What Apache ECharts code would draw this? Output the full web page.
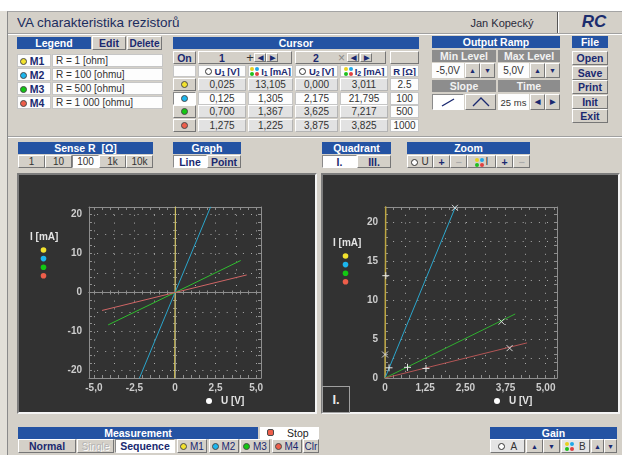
<!DOCTYPE html>
<html><head><meta charset="utf-8"><title>VA charakteristika rezistorů</title>
<script src="https://cdn.jsdelivr.net/npm/echarts@6.0.0/dist/echarts.min.js"></script>
<style>
html,body{margin:0;padding:0;width:622px;height:455px;overflow:hidden;background:#fff;font-family:"Liberation Sans",Arial,sans-serif;}
.a{position:absolute;box-sizing:border-box;display:flex;align-items:center;justify-content:center;font-size:10.5px;white-space:nowrap;overflow:hidden;color:#222;}
.hdr{background:#2453a3;color:#fff;font-weight:bold;}
.ghdr{background:#8d8d8d;color:#f2f2f2;font-weight:bold;}
.btn{background:#d4d0c8;border:1px solid;border-color:#fff #767676 #767676 #fff;color:#1a2970;font-weight:bold;}
.btnn{background:#d4d0c8;border:1px solid;border-color:#fff #767676 #767676 #fff;color:#333;font-size:10px;}
.btnw{background:#fff;border:1px solid;border-color:#8a8a8a #fff #fff #8a8a8a;color:#1a2970;font-weight:bold;}
.cell{background:#e2e2e2;border:1px solid;border-color:#fff #b4b4b4 #b4b4b4 #fff;color:#333;font-size:10px;}
.wcell{background:#fdfdfd;border:1px solid #c6c6c6;color:#333;font-size:10px;}
.panel{background:#323232;border:2px solid;border-color:#7c7c7c #f4f4f4 #f4f4f4 #7c7c7c;}
.tb{font-size:7px;padding:0;}
.dot{display:inline-block;width:7px;height:7px;border-radius:50%;border:1px solid #4a4a4a;box-sizing:border-box;vertical-align:middle;}
.oc{display:inline-block;width:7px;height:7px;border-radius:50%;border:1px solid #333;box-sizing:border-box;margin-right:3px;vertical-align:middle;background:#fff;}
.ic{position:relative;display:inline-block;width:9px;height:9px;vertical-align:middle;margin-right:2px;}
.ic i{position:absolute;width:4px;height:4px;border-radius:50%;}
sub{font-size:7px;vertical-align:-1px;line-height:0;}
</style></head>
<body>
<div id="chart" style="position:absolute;left:0;top:0;width:622px;height:455px;z-index:10;pointer-events:none"></div>
<script>
// ===== DATA =====
const measurementNames = ['M1', 'M2', 'M3', 'M4'];
const legendTexts = ['R = 1 [ohm]', 'R = 100 [ohmu]', 'R = 500 [ohmu]', 'R = 1 000 [ohmu]'];
// measured sweeps (U [V], I [mA])
const m1U = [-0.022, 0, 0.022];
const m1I = [-22, 0, 22];
const m2U = [-2.2, 0, 2.2];
const m2I = [-22, 0, 22];
const m3U = [-4.12, 0, 4.05];
const m3I = [-8.3, 0, 8.2];
const m4U = [-4.5, 0, 4.42];
const m4I = [-4.6, 0, 4.5];
// cursors
const cursor1U = [0.025, 0.125, 0.700, 1.275];
const cursor1I = [13.105, 1.305, 1.367, 1.225];
const cursor2U = [0.000, 2.175, 3.625, 3.875];
const cursor2I = [3.011, 21.795, 7.217, 3.825];
const resistR = [2.5, 100, 500, 1000];
// axis ticks
const leftXTicks = [-5, -2.5, 0, 2.5, 5];
const leftYTicks = [-20, -10, 0, 10, 20];
const rightXTicks = [0, 1.25, 2.5, 3.75, 5];
const rightYTicks = [0, 5, 10, 15, 20];
const leftXRange = [-5.3, 5.3];
const leftYRange = [-21.9, 21.9];
const rightXRange = [0, 5.35];
const rightYRange = [0, 21.9];
const senseR = ['1', '10', '100', '1k', '10k'];

// ===== STYLE =====
const NAVY = '#1a2970';
const markColors = ['#f2e22e', '#1cb6ee', '#12c812', '#ee5e4a'];
const leftLineColors = ['#ddcc58', '#2ba6cc', '#2fbf2f', '#d06666'];
const rightLineColors = ['#bda642', '#2ba6cc', '#2fb02f', '#b45656'];

function add(x, y, w, h, cls, html, css) {
  const d = document.createElement('div');
  d.className = 'a ' + (cls || '');
  d.style.cssText = 'left:' + x + 'px;top:' + y + 'px;width:' + w + 'px;height:' + h + 'px;' + (css || '');
  d.innerHTML = html || '';
  document.body.appendChild(d);
  return d;
}
const dot = c => '<span class="dot" style="background:' + c + '"></span>';
const IC = '<span class="ic"><i style="left:0;top:0;background:#e8d020"></i><i style="left:5px;top:0;background:#20a8e8"></i><i style="left:0;top:5px;background:#20c020"></i><i style="left:5px;top:5px;background:#e04040"></i></span>';
const fmt3 = v => v.toFixed(3).replace('.', ',');

// window background
add(0, 11, 7, 444, '', '', 'background:#e2dfd8;');
add(7, 11, 615, 444, '', '', 'background:#d4d0c8;border-left:1px solid #8a8a8a;border-top:1px solid #a4a4a4;');
add(8, 33, 614, 2, '', '', 'border-top:1px solid #a0a0a0;border-bottom:1px solid #fff;');
add(8, 136, 614, 2, '', '', 'border-top:1px solid #a0a0a0;border-bottom:1px solid #fff;');

// title bar
add(17, 12, 200, 20, '', '<span>VA charakteristika rezistorů</span>', 'justify-content:flex-start;font-size:13.5px;color:#1c2d5e;');
add(466, 14, 72, 18, '', 'Jan Kopecký', 'font-size:11px;color:#2a2a3a;');
add(557, 12, 2, 21, '', '', 'border-left:1px solid #555;border-right:1px solid #fff;');
add(578, 12, 32, 20, '', 'RC', 'font-size:17px;font-weight:bold;font-style:italic;color:#1c2d6e;');

// legend
add(17, 37, 74, 12, 'hdr', 'Legend');
add(92, 36, 34, 14, 'btn', 'Edit');
add(127, 36, 35, 14, 'btn', 'Delete', 'font-size:10px;');
measurementNames.forEach((n, i) => {
  const y = 54 + i * 14;
  add(17, y, 34, 13, 'wcell', '<span>' + dot(markColors[i]) + '&nbsp;<b style="color:' + NAVY + ';font-size:10.5px">' + n + '</b></span>', 'justify-content:flex-start;padding-left:2px;');
  add(52, y, 111, 13, 'wcell', legendTexts[i], 'justify-content:flex-start;padding-left:3px;');
});

// cursor
add(173, 37, 246, 12, 'hdr', 'Cursor');
add(173, 51, 23, 13, 'btn', 'On');
add(198, 51, 94, 13, 'btn', '');
add(198, 51, 48, 13, '', '1', 'font-weight:bold;color:' + NAVY + ';');
add(246, 51, 8, 13, '', '+', 'font-size:13px;color:#333;');
add(254, 53, 12, 9, 'btn tb', '◀');
add(266, 53, 12, 9, 'btn tb', '▶');
add(295, 51, 91, 13, 'btn', '');
add(295, 51, 42, 13, '', '2', 'font-weight:bold;color:' + NAVY + ';');
add(337, 51, 9, 13, '', '×', 'font-size:12px;color:#888;');
add(347, 53, 12, 9, 'btn tb', '◀');
add(360, 53, 12, 9, 'btn tb', '▶');
add(390, 51, 29, 13, 'btn', '');
const colX = [198, 248, 295, 340, 390];
const colW = [48, 45, 43, 48, 29];
const colHead = ['<span class="oc"></span>U<sub>1</sub>&nbsp;[V]', IC + 'I<sub>1</sub>&nbsp;[mA]', '<span class="oc"></span>U<sub>2</sub>&nbsp;[V]', IC + 'I<sub>2</sub>&nbsp;[mA]', 'R&nbsp;[Ω]'];
add(173, 65, 23, 12, 'wcell', '');
colHead.forEach((h, c) => add(colX[c], 65, colW[c], 12, 'wcell', '<span>' + h + '</span>', 'font-weight:bold;font-size:9.5px;letter-spacing:-0.2px;color:' + NAVY + ';'));
const rowsY = [78, 92, 105, 119];
measurementNames.forEach((n, i) => {
  const y = rowsY[i];
  add(173, y, 23, 13, i === 1 ? 'btnw' : 'btn', dot(markColors[i]));
  const vals = [fmt3(cursor1U[i]), fmt3(cursor1I[i]), fmt3(cursor2U[i]), fmt3(cursor2I[i]), String(resistR[i])];
  vals.forEach((v, c) => add(colX[c], y, colW[c], 13, (i === 1 || c === 4) ? 'wcell' : 'cell', v));
});

// output ramp
add(432, 36, 128, 12, 'hdr', 'Output Ramp');
add(432, 50, 64, 12, 'ghdr', 'Min Level');
add(498, 50, 62, 12, 'ghdr', 'Max Level');
add(432, 63, 32, 15, 'wcell', '-5,0V', 'border:none;');
add(465, 63, 15, 15, 'btn tb', '▲');
add(480, 63, 15, 15, 'btn tb', '▼');
add(498, 63, 31, 15, 'wcell', '5,0V', 'border:none;');
add(530, 63, 15, 15, 'btn tb', '▲');
add(545, 63, 15, 15, 'btn tb', '▼');
add(432, 80, 64, 12, 'ghdr', 'Slope');
add(498, 80, 62, 12, 'ghdr', 'Time');
add(432, 94, 32, 16, 'btnw', '<svg width="16" height="9"><line x1="2" y1="8" x2="14" y2="1" stroke="' + NAVY + '" stroke-width="1.4"/></svg>');
add(465, 94, 31, 16, 'btn', '<svg width="18" height="10"><polyline points="1,9 9,1 17,9" fill="none" stroke="' + NAVY + '" stroke-width="1.3"/></svg>');
add(498, 94, 31, 16, 'wcell', '25 ms', 'border:none;font-size:9.5px;');
add(530, 94, 15, 16, 'btn tb', '◀');
add(545, 94, 15, 16, 'btn tb', '▶');

// file
add(572, 36, 36, 12, 'hdr', 'File');
['Open', 'Save', 'Print', 'Init', 'Exit'].forEach((t, i) => add(572, 51 + i * 14.5, 36, 14, 'btn', t));

// second band
add(18, 142, 135, 12, 'hdr', 'Sense R&nbsp;&nbsp;[Ω]');
senseR.forEach((t, i) => add(18 + i * 27, 155, 27, 13, i === 2 ? 'btnw' : 'btnn', t, i === 2 ? 'font-weight:normal;color:#333;font-size:10px;' : ''));
add(173, 142, 68, 12, 'hdr', 'Graph');
add(173, 155, 34, 13, 'btnw', 'Line');
add(207, 155, 34, 13, 'btn', 'Point');
add(322, 142, 69, 12, 'hdr', 'Quadrant');
add(322, 155, 35, 13, 'btnw', 'I.');
add(357, 155, 34, 13, 'btn', 'III.');
add(407, 142, 123, 12, 'hdr', 'Zoom');
add(407, 155, 26, 13, 'btnn', '<span><span class="oc"></span>U</span>');
add(433, 155, 17, 13, 'btn', '+');
add(450, 155, 17, 13, 'btn', '−', 'color:#aaa;');
add(467, 155, 29, 13, 'btnn', '<span>' + IC + 'I</span>');
add(496, 155, 17, 13, 'btn', '+');
add(513, 155, 17, 13, 'btn', '−', 'color:#aaa;');

// chart panels
add(17, 173, 300, 241, 'panel', '');
add(321, 173, 299, 241, 'panel', '');
add(322, 386, 28, 27, '', 'I.', 'border:1px solid #a0a0a0;color:#e8e8e8;font-weight:bold;font-size:13px;background:#323232;z-index:11;');

// bottom band
add(18, 427, 240, 12, 'hdr', 'Measurement');
add(260, 427, 59, 12, '', '<span class="dot" style="background:#ee5e4a;border-radius:2px;position:absolute;left:7px;top:2px"></span><span style="position:absolute;left:27px">Stop</span>', 'background:#fff;');
add(18, 439, 58, 14, 'btn', 'Normal');
add(77, 439, 37, 14, 'btnn', 'Single', 'color:#b4b4b4;text-shadow:1px 1px 0 #fff;');
add(115, 439, 60, 14, 'btnw', 'Sequence');
measurementNames.forEach((n, i) => add(177 + i * 31.5, 439, 30, 14, 'btnn', '<span>' + dot(markColors[i]) + '&nbsp;' + n + '</span>', 'color:' + NAVY + ';'));
add(303, 439, 16, 14, 'btnn', 'Clr', 'color:' + NAVY + ';');
add(490, 427, 127, 12, 'hdr', 'Gain');
add(490, 439, 35, 14, 'btnn', '<span><span class="oc"></span>&nbsp;A</span>', 'background:#e4e4e4;');
add(526, 439, 17, 14, 'btn tb', '▲');
add(543, 439, 17, 14, 'btn tb', '▼');
add(561, 439, 29, 14, 'btnn', '<span>' + IC + '&nbsp;B</span>', 'background:#e4e4e4;');
add(591, 439, 13, 14, 'btn tb', '▲');
add(604, 439, 13, 14, 'btn tb', '▼');

// ===== CHARTS =====
const AXC = '#8e8e8e', LBC = '#cdcdcd', DOTC = '#aaaaaa';
const LBLFONT = { color: LBC, fontSize: 10, fontWeight: 'bold', fontFamily: 'Liberation Sans' };
function blankAxis(g, pos, range, step) {
  return {
    type: 'value', gridIndex: g, position: pos, min: range[0], max: range[1],
    minInterval: step, maxInterval: step,
    axisLine: { show: false, onZero: false }, axisTick: { show: false }, minorTick: { show: false },
    axisLabel: { show: false }, splitLine: { show: false }, minorSplitLine: { show: false }
  };
}
function matchTick(v, ticks) { return ticks.find(t => Math.abs(t - v) < 1e-6); }
function frameAxis(g, pos, range, ticks, fmt) {
  const a = blankAxis(g, pos, range, ticks[1] - ticks[0]);
  a.axisLine = { show: true, onZero: false, lineStyle: { color: AXC, width: 1 } };
  a.axisTick = { show: true, inside: true, length: 3, lineStyle: { color: AXC } };
  a.minorTick = { show: true, splitNumber: 5, length: 3, lineStyle: { color: AXC } };
  if (fmt) {
    a.axisLabel = Object.assign({
      show: true, margin: (pos === 'bottom' ? 5 : 7),
      showMinLabel: range[0] === ticks[0], showMaxLabel: false,
      formatter: v => { const t = matchTick(v, ticks); return t === undefined ? '' : fmt(t); }
    }, LBLFONT);
  }
  return a;
}
function dotAxis(g, pos, range, ticks, dash) {
  const a = blankAxis(g, pos, range, (ticks[1] - ticks[0]) / 2);
  a.splitLine = { show: true, lineStyle: { color: DOTC, width: 1, type: dash } };
  return a;
}
function zeroAxis(g, pos, range, step, other, inside) {
  const a = blankAxis(g, pos, range, step);
  a.axisLine = { show: true, onZero: true, onZeroAxisIndex: other, lineStyle: { color: AXC, width: 1 } };
  a.axisTick = { show: true, inside: inside, length: 2, lineStyle: { color: AXC } };
  return a;
}
const fmtL = v => v === 0 ? '0' : v.toFixed(1).replace('.', ',');
const fmtR = v => v === 0 ? '0' : v.toFixed(2).replace('.', ',');
const fmtY = v => String(v);
const xStepL = (leftXTicks[1] - leftXTicks[0]) / 5, yStepL = (leftYTicks[1] - leftYTicks[0]) / 5;

const xAxes = [
  frameAxis(0, 'bottom', leftXRange, leftXTicks, fmtL),   // 0
  frameAxis(0, 'top', leftXRange, leftXTicks, null),      // 1
  dotAxis(0, 'bottom', leftXRange, leftXTicks, [1, 6.8]), // 2
  zeroAxis(0, 'bottom', leftXRange, xStepL, 0, true),     // 3
  zeroAxis(0, 'bottom', leftXRange, xStepL, 0, false),    // 4
  frameAxis(1, 'bottom', rightXRange, rightXTicks, fmtR), // 5
  frameAxis(1, 'top', rightXRange, rightXTicks, null),    // 6
  dotAxis(1, 'bottom', rightXRange, rightXTicks, [1, 6.8])// 7
];
const yAxes = [
  frameAxis(0, 'left', leftYRange, leftYTicks, fmtY),     // 0
  frameAxis(0, 'right', leftYRange, leftYTicks, null),    // 1
  dotAxis(0, 'left', leftYRange, leftYTicks, [1, 7.1]),   // 2
  zeroAxis(0, 'left', leftYRange, yStepL, 0, true),       // 3
  zeroAxis(0, 'left', leftYRange, yStepL, 0, false),      // 4
  frameAxis(1, 'left', rightYRange, rightYTicks, fmtY),   // 5
  frameAxis(1, 'right', rightYRange, rightYTicks, null),  // 6
  dotAxis(1, 'left', rightYRange, rightYTicks, [1, 7.1])  // 7
];

const sweepsU = [m1U, m2U, m3U, m4U];
const sweepsI = [m1I, m2I, m3I, m4I];
const pairs = (us, is) => us.map((u, k) => [u, is[k]]);
const series = [];
measurementNames.forEach((n, i) => {
  series.push({
    type: 'line', name: n, xAxisIndex: 0, yAxisIndex: 0, data: pairs(sweepsU[i], sweepsI[i]),
    showSymbol: false, symbol: 'none', clip: true, silent: true, z: 3,
    lineStyle: { color: leftLineColors[i], width: 1 }
  });
});
measurementNames.forEach((n, i) => {
  series.push({
    type: 'line', name: n + ' I.', xAxisIndex: 5, yAxisIndex: 5,
    data: pairs(sweepsU[i], sweepsI[i]).filter(p => p[0] >= 0 && p[1] >= 0),
    showSymbol: false, symbol: 'none', clip: true, silent: true, z: 3,
    lineStyle: { color: rightLineColors[i], width: i === 0 ? 1.5 : 1 }
  });
});
series.push({
  type: 'scatter', name: 'Cursor 1', xAxisIndex: 5, yAxisIndex: 5, data: pairs(cursor1U, cursor1I),
  symbol: 'path://M4,0L4,8M0,4L8,4', symbolSize: 7, z: 4, silent: true,
  itemStyle: { color: 'rgba(0,0,0,0)', borderColor: '#e6e6e6', borderWidth: 1, opacity: 1 }
});
series.push({
  type: 'scatter', name: 'Cursor 2', xAxisIndex: 5, yAxisIndex: 5, data: pairs(cursor2U, cursor2I),
  symbol: 'path://M0,0L8,8M0,8L8,0', symbolSize: 6, z: 4, silent: true,
  itemStyle: { color: 'rgba(0,0,0,0)', borderColor: '#d8d8d8', borderWidth: 1, opacity: 1 }
});

const legendFont = 'bold 10px "Liberation Sans"';
const graphic = [];
function chartLegend(tx, ty, dx, dy0, ux, uy) {
  graphic.push({ type: 'text', x: tx, y: ty, style: { text: 'I [mA]', fill: '#e4e4e4', font: legendFont, verticalAlign: 'middle' } });
  markColors.forEach((c, i) => graphic.push({ type: 'circle', shape: { cx: dx, cy: dy0 + i * 8.6, r: 2.8 }, style: { fill: c } }));
  graphic.push({ type: 'circle', shape: { cx: ux, cy: uy, r: 3 }, style: { fill: '#ffffff' } });
  graphic.push({ type: 'text', x: ux + 12, y: uy, style: { text: 'U [V]', fill: '#e4e4e4', font: legendFont, verticalAlign: 'middle' } });
}
chartLegend(30, 237, 43.5, 250, 209, 401);
chartLegend(333, 243, 345.5, 256, 497, 401);

const chart = echarts.init(document.getElementById('chart'), null, { renderer: 'canvas' });
chart.setOption({
  animation: false,
  backgroundColor: 'transparent',
  grid: [
    { left: 89, top: 207, width: 172, height: 171, containLabel: false, outerBoundsMode: 'none' },
    { left: 385, top: 207, width: 172, height: 171, containLabel: false, outerBoundsMode: 'none' }
  ],
  xAxis: xAxes,
  yAxis: yAxes,
  series: series,
  graphic: graphic
});
</script>
</body></html>
